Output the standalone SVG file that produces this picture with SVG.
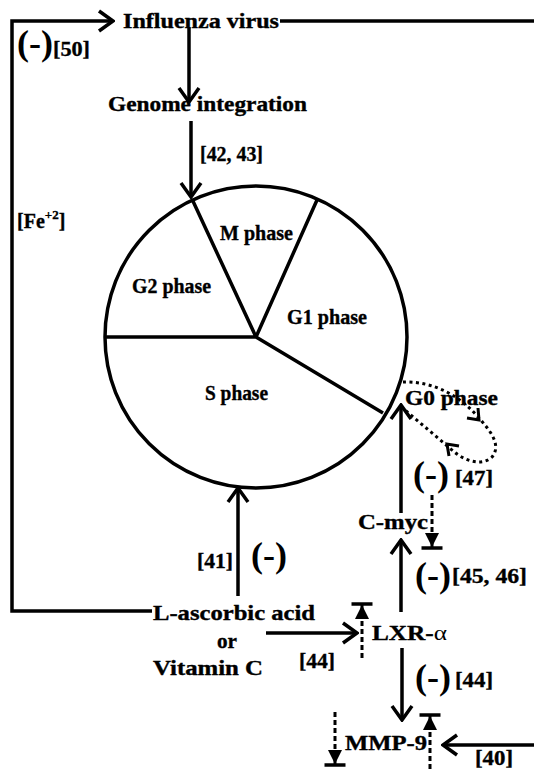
<svg xmlns="http://www.w3.org/2000/svg" width="534" height="769" viewBox="0 0 534 769">
<style>
text{font-family:"Liberation Serif","Times New Roman",serif;font-weight:bold;fill:#000}
.lbl{font-size:20px;stroke:#000;stroke-width:0.35}
.neg{font-size:36px}
.ln{fill:none;stroke:#000;stroke-width:3.5}
.dash{fill:none;stroke:#000;stroke-width:3;stroke-dasharray:5 3}
.dot{fill:none;stroke:#000;stroke-width:3;stroke-dasharray:3 3.5}
.ch{fill:none;stroke:#000;stroke-width:3}
</style>
<defs>
<marker id="arr" viewBox="0 0 18 24" refX="16" refY="12" markerWidth="18" markerHeight="24" markerUnits="userSpaceOnUse" orient="auto">
<path d="M2,2 L16,12 L2,22" fill="none" stroke="#000" stroke-width="3.5"/>
</marker>
<marker id="inh" viewBox="0 -11 17 22" refX="15" refY="0" markerWidth="17" markerHeight="22" markerUnits="userSpaceOnUse" orient="auto">
<path d="M0,-7 L14,0 L0,7 Z" fill="#000"/>
<path d="M15,-10.5 L15,10.5" stroke="#000" stroke-width="3.5"/>
</marker>
</defs>
<rect width="534" height="769" fill="#fff"/>

<g id="connectors">
<polyline class="ln" points="152,611 12,611 12,21 113,21" marker-end="url(#arr)"/>
<line class="ln" x1="280" y1="21" x2="534" y2="21"/>
<line class="ln" x1="189" y1="28" x2="189" y2="102" marker-end="url(#arr)"/>
<line class="ln" x1="191" y1="121" x2="191" y2="197" marker-end="url(#arr)"/>
<line class="ln" x1="238" y1="596" x2="238" y2="488" marker-end="url(#arr)"/>
<line class="ln" x1="266" y1="633" x2="357" y2="633" marker-end="url(#arr)"/>
<line class="ln" x1="401" y1="612" x2="401" y2="540" marker-end="url(#arr)"/>
<line class="ln" x1="401" y1="513" x2="401" y2="405" marker-end="url(#arr)"/>
<line class="ln" x1="402" y1="648" x2="402" y2="720" marker-end="url(#arr)"/>
<line class="ln" x1="534" y1="745" x2="443" y2="745" marker-end="url(#arr)"/>
<line class="dash" x1="432" y1="495" x2="432" y2="548" marker-end="url(#inh)"/>
<line class="dash" x1="362" y1="658" x2="362" y2="604" marker-end="url(#inh)"/>
<line class="dash" x1="430" y1="769" x2="430" y2="715" marker-end="url(#inh)"/>
<line class="dash" x1="335" y1="712" x2="335" y2="765" marker-end="url(#inh)"/>
<path class="dot" d="M403,382 C425,381 455,390 477,416 C490,430 502,445 492,457 C483,466 465,462 452,450 L405,410"/>
<polyline class="ch" points="467,418 479,420 478,408"/>
<polyline class="ch" points="459,446 447,444 449,456"/>
</g>

<g id="influenza">
<text class="lbl" x="123" y="28" textLength="156" lengthAdjust="spacingAndGlyphs">Influenza virus</text>
</g>
<g id="label-50">
<text class="neg" x="17" y="55">(-)</text>
<text class="lbl" x="53" y="56" textLength="37" lengthAdjust="spacingAndGlyphs">[50]</text>
</g>
<g id="genome">
<text class="lbl" x="108" y="111" font-size="21" textLength="199" lengthAdjust="spacingAndGlyphs">Genome integration</text>
</g>
<g id="label-42">
<text class="lbl" x="200" y="161" textLength="63" lengthAdjust="spacingAndGlyphs">[42, 43]</text>
</g>
<g id="label-fe">
<text class="lbl" x="17" y="228" font-size="21">[Fe<tspan font-size="13" dy="-9">+2</tspan><tspan dy="9">]</tspan></text>
</g>

<g id="cell-cycle">
<circle cx="256" cy="337" r="151" class="ln"/>
<path class="ln" d="M105,337 L256,337 L192,199 M256,337 L317,200 M256,337 L383,413"/>
<text class="lbl" x="220" y="240" textLength="73" lengthAdjust="spacingAndGlyphs">M phase</text>
<text class="lbl" x="132" y="293" textLength="79" lengthAdjust="spacingAndGlyphs">G2 phase</text>
<text class="lbl" x="287" y="324" textLength="80" lengthAdjust="spacingAndGlyphs">G1 phase</text>
<text class="lbl" x="205" y="400" textLength="63" lengthAdjust="spacingAndGlyphs">S phase</text>
</g>
<g id="g0">
<text class="lbl" x="405" y="405" textLength="93" lengthAdjust="spacingAndGlyphs">G0 phase</text>
</g>
<g id="label-47">
<text class="neg" x="413" y="486">(-)</text>
<text class="lbl" x="455" y="485" font-weight="normal" textLength="38" lengthAdjust="spacingAndGlyphs">[47]</text>
</g>
<g id="cmyc">
<text class="lbl" x="358" y="529" textLength="70" lengthAdjust="spacingAndGlyphs">C-myc</text>
</g>
<g id="label-45">
<text class="neg" x="415" y="587">(-)</text>
<text class="lbl" x="452" y="583" textLength="75" lengthAdjust="spacingAndGlyphs">[45, 46]</text>
</g>
<g id="label-41">
<text class="lbl" x="197" y="568" font-weight="normal" textLength="36" lengthAdjust="spacingAndGlyphs">[41]</text>
<text class="neg" x="251" y="567">(-)</text>
</g>
<g id="ascorbic">
<text class="lbl" x="153" y="620" textLength="162" lengthAdjust="spacingAndGlyphs">L-ascorbic acid</text>
<text class="lbl" x="217" y="648" textLength="20" lengthAdjust="spacingAndGlyphs">or</text>
<text class="lbl" x="153" y="675" textLength="110" lengthAdjust="spacingAndGlyphs">Vitamin C</text>
</g>
<g id="label-44a">
<text class="lbl" x="299" y="668" textLength="36" lengthAdjust="spacingAndGlyphs">[44]</text>
</g>
<g id="lxr">
<text class="lbl" x="372" y="640" textLength="75" lengthAdjust="spacingAndGlyphs">LXR-<tspan font-weight="normal" stroke-width="0">α</tspan></text>
</g>
<g id="label-44b">
<text class="neg" x="415" y="689">(-)</text>
<text class="lbl" x="455" y="687" textLength="38" lengthAdjust="spacingAndGlyphs">[44]</text>
</g>
<g id="mmp9">
<text class="lbl" x="345" y="750" textLength="82" lengthAdjust="spacingAndGlyphs">MMP-9</text>
</g>
<g id="label-40">
<text class="lbl" x="475" y="765" textLength="38" lengthAdjust="spacingAndGlyphs">[40]</text>
</g>
</svg>
